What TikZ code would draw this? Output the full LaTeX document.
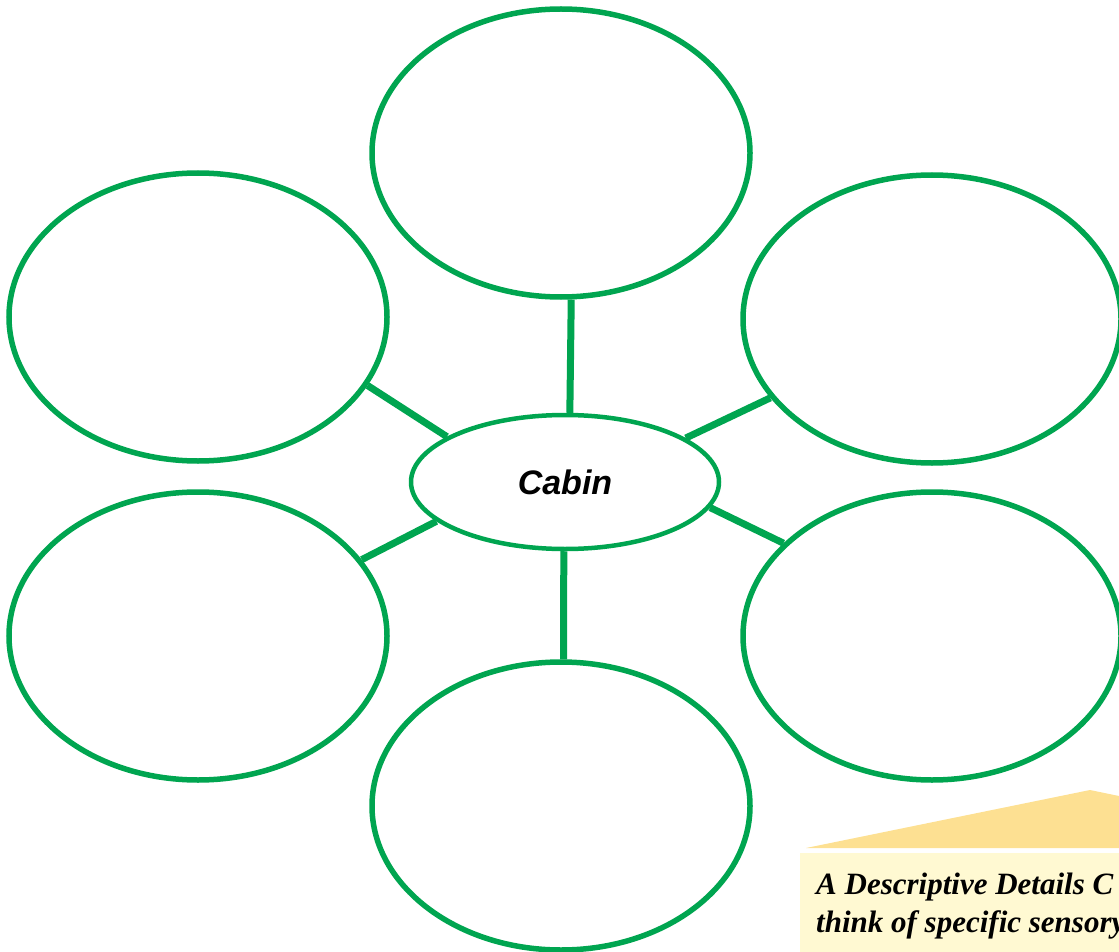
\documentclass[tikz,border=0pt]{standalone}
\usepackage{fontspec}
\setmainfont{Liberation Serif}
\newfontfamily\labelfont{Liberation Sans}
\usetikzlibrary{shapes.geometric,backgrounds}
\definecolor{webgreen}{RGB}{0,165,80}
\definecolor{tipgold}{RGB}{253,224,146}
\definecolor{tipcream}{RGB}{255,249,210}
\tikzset{
  bubble/.style={ellipse, draw=webgreen, line width=5.5pt, fill=white,
    minimum width=378pt, minimum height=288pt, inner sep=0pt},
  hub/.style={ellipse, draw=webgreen, line width=4.5pt, fill=white,
    minimum width=308pt, minimum height=134pt, inner sep=0pt,
    font=\labelfont\bfseries\itshape\fontsize{34}{40}\selectfont},
  spoke/.style={draw=webgreen, line width=7pt},
  tiptext/.style={anchor=base west, inner sep=0pt,
    font=\bfseries\itshape\fontsize{31}{38}\selectfont},
}
\begin{document}
\begin{tikzpicture}[x=1pt,y=-1pt]
\useasboundingbox (0,0) rectangle (1119,952);
\clip (0,0) rectangle (1119,952);

% central topic and its six detail bubbles
\node[hub] (cabin) at (565,482) {Cabin};
\node[bubble] (top) at (561,153) {};
\node[bubble] (ul) at (198,317) {};
\node[bubble] (ur) at (932,319) {};
\node[bubble] (ll) at (198,636) {};
\node[bubble] (lr) at (932,636) {};
\node[bubble] (bot) at (561,806) {};

\begin{scope}[on background layer]
  \draw[spoke] (cabin.86) -- (top.-86.5);
  \draw[spoke] (cabin.159) -- (ul.-22);
  \draw[spoke] (cabin.20) -- (ur.206);
  \draw[spoke] (cabin.197) -- (ll.25);
  \draw[spoke] (cabin.-10) -- (lr.148.5);
  \draw[spoke] (cabin.-91.5) -- (bot.89.5);
\end{scope}

% tip box in the lower right corner
\fill[tipgold] (806,848) -- (1090,790) -- (1119,796) -- (1119,848) -- cycle;
\fill[tipcream] (800,853) rectangle (1119,952);
\node[tiptext] (tip1) at (816,894) {A Descriptive Details C};
\node[tiptext] (tip2) at (816,932) {think of specific sensory};
\end{tikzpicture}
\end{document}
